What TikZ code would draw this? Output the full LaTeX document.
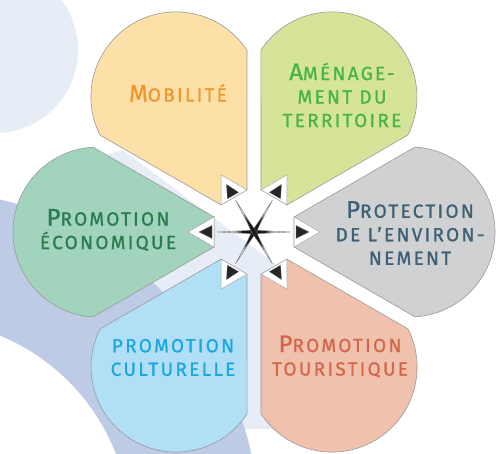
\documentclass[tikz,border=0pt]{standalone}
\usepackage{fontspec}
\setmainfont{Fira Sans}[LetterSpace=12, FakeBold=1]
\definecolor{bgPale}{HTML}{E7EDF7}
\definecolor{bgMid}{HTML}{BDCBE4}
\definecolor{mobF}{HTML}{FCE0A8}\definecolor{mobT}{HTML}{F0962A}
\definecolor{amF}{HTML}{D6E49A}\definecolor{amT}{HTML}{48B446}
\definecolor{prF}{HTML}{CFD1D3}\definecolor{prT}{HTML}{3D6072}
\definecolor{toF}{HTML}{F0C2AE}\definecolor{toT}{HTML}{D3664B}
\definecolor{cuF}{HTML}{B1E0F6}\definecolor{cuT}{HTML}{1CA7E0}
\definecolor{ecF}{HTML}{A2D3BD}\definecolor{ecT}{HTML}{2A7C4E}
\newcommand\bigL[1]{{\fontsize{24}{25}\selectfont #1}}
\tikzset{
  petal/.style={draw=black!40, line width=0.6pt, fill=#1},
  arrowtri/.style={fill=white, draw=black!35, line width=0.5pt},
  arrowdark/.style={fill=black!85, draw=black!50, line width=0.3pt},
  lbl/.style={align=center, font=\fontsize{19}{23.5}\selectfont, inner sep=0pt},
}
\begin{document}
\begin{tikzpicture}[x=1pt,y=1pt]
\useasboundingbox (0,0) rectangle (496,454);
\begin{scope}
\clip (0,0) rectangle (496,454);
\fill[white] (0,0) rectangle (496,454);
\fill[bgPale] (-5,404) circle[radius=83];
\begin{scope}
\clip (-100,469.5) -- (600,-51.2) -- (-100,-51.2) -- cycle;
\clip (0,25) rectangle (496,454);
\fill[bgPale] (170,94) circle[radius=215];
\end{scope}
\fill[bgMid] (-80,-76) circle[radius=340];
\fill[white] (-80,-76) circle[radius=210];
\end{scope}
% petals
\foreach \ang/\col in {120/mobF, 60/amF, 0/prF, -60/toF, -120/cuF, 180/ecF}{
  \begin{scope}[shift={(254,222)}, rotate=\ang]
    \path[petal=\col] (40,-15) -- (160.9,-84.8) arc[start angle=-86.7, end angle=86.7, radius=85] -- (40,15) -- cycle;
    \path[arrowtri] (40,-15) -- (66,0) -- (40,15) -- cycle;
    \path[arrowdark] (42,-6.5) -- (55,0) -- (42,6.5) -- cycle;
  \end{scope}
}
% star
\foreach \ang in {0,60,120}{
  \begin{scope}[shift={(254,222)}, rotate=\ang]
    \path[fill=black!15, draw=black!50, line width=0.4pt] (-37,0) -- (-10,1.4) -- (0,1.9) -- (10,1.4) -- (37,0) -- (10,-1.4) -- (0,-1.9) -- (-10,-1.4) -- cycle;
    \path[fill=black!90] (-20,0) -- (0,2) -- (20,0) -- (0,-2) -- cycle;
  \end{scope}
}
% labels
\node[lbl, text=mobT] (mob) at (178,361) {\bigL{M}OBILITÉ};
\node[lbl, text=amT] (amen) at (342,359) {\bigL{A}MÉNAGE-\\MENT DU\\TERRITOIRE};
\node[lbl, text=prT] (prot) at (410,221) {\bigL{P}ROTECTION\\DE L'ENVIRON-\\NEMENT};
\node[lbl, text=toT] (tour) at (340,97.5) {\bigL{P}ROMOTION\\TOURISTIQUE};
\node[lbl, text=cuT] (cult) at (173,96.5) {PROMOTION\\CULTURELLE};
\node[lbl, text=ecT] (eco) at (108,224) {\bigL{P}ROMOTION\\ÉCONOMIQUE};
\end{tikzpicture}
\end{document}
